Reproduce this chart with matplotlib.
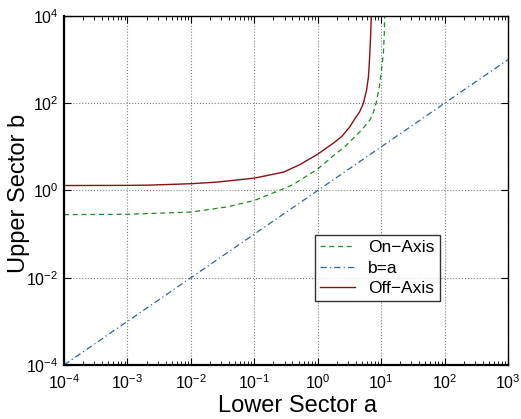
import matplotlib.pyplot as plt
from matplotlib.ticker import LogLocator, NullLocator

plt.rcParams['font.family'] = ['Liberation Sans', 'DejaVu Sans']
plt.rcParams['mathtext.fontset'] = 'custom'
plt.rcParams['mathtext.rm'] = 'Liberation Sans'
plt.rcParams['mathtext.it'] = 'Liberation Sans:italic'

# On-Axis curve (green dashed)
a_on = [1e-4, 1e-3, 1e-2, 0.037, 0.1, 0.29, 0.41, 1.0, 2.0, 2.54, 3.66, 5.01,
        6.70, 7.59, 8.32, 9.40, 10.1, 10.84, 11.22, 11.35]
b_on = [0.28, 0.285, 0.32, 0.42, 0.59, 1.1, 1.37, 3.1, 7.3, 9.4, 15.9, 25,
        42, 63, 100, 245, 560, 1400, 4000, 1e4]

# b = a reference line (blue dash-dot)
a_eq = [1e-4, 1e3]
b_eq = [1e-4, 1e3]

# Off-Axis curve (dark red solid)
a_off = [1e-4, 1e-3, 2.3e-3, 1e-2, 0.026, 0.1, 0.29, 0.52, 1.0, 1.77, 2.4,
         3.16, 3.89, 4.57, 5.25, 5.89, 6.31, 6.60, 6.85, 7.0]
b_off = [1.30, 1.31, 1.33, 1.43, 1.56, 1.92, 2.64, 3.9, 6.8, 12.2, 17.4,
         28, 45, 63, 100, 200, 407, 1200, 4000, 1e4]

fig = plt.figure(figsize=(5.21, 4.19), dpi=100)
ax = fig.add_axes([64 / 521, 1 - 365 / 419, 444 / 521, 349 / 419])

ax.loglog(a_on, b_on, '--', color='#1e8c1e', lw=0.9, label='On\u2212Axis', dashes=(4, 3))
ax.loglog(a_eq, b_eq, '-.', color='#2d62a8', lw=0.9, label='b=a', dashes=(5, 2.5, 1, 2.5))
ax.loglog(a_off, b_off, '-', color='#8b1010', lw=1.0, label='Off\u2212Axis')

ax.set_xlim(1e-4, 1e3)
ax.set_ylim(1e-4, 1e4)

ax.xaxis.set_major_locator(LogLocator(base=10, numticks=20))
ax.xaxis.set_minor_locator(LogLocator(base=10, subs=range(2, 10), numticks=20))
ax.set_yticks([1e-4, 1e-2, 1e0, 1e2, 1e4])
ax.yaxis.set_minor_locator(NullLocator())

ax.tick_params(which='both', direction='in', top=True, right=True, labelsize=11.5)
ax.tick_params(axis='x', which='major', pad=6)
ax.tick_params(axis='y', which='major', pad=4)
ax.tick_params(which='major', length=5)
ax.tick_params(which='minor', length=3)
ax.grid(True, which='major', linestyle=':', color='#808080', lw=0.8)

for s in ['left', 'bottom']:
    ax.spines[s].set_linewidth(1.6)
for s in ['top', 'right']:
    ax.spines[s].set_linewidth(1.0)

ax.set_xlabel('Lower Sector a', fontsize=17)
ax.set_ylabel('Upper Sector b', fontsize=17)
ax.xaxis.set_label_coords((297.5 - 64) / 444, -0.086)
ax.yaxis.set_label_coords(-0.077, 0.491)

leg = ax.legend(loc='upper left', bbox_to_anchor=((315 - 64) / 444, 1 - (235 - 16) / 349),
                fontsize=12.5, frameon=True, fancybox=False, borderpad=0.3,
                handlelength=2.0, handletextpad=0.75, labelspacing=0.3, borderaxespad=0)
leg.get_frame().set_edgecolor('black')
leg.get_frame().set_linewidth(1.0)

fig.savefig('out.png', dpi=100)
